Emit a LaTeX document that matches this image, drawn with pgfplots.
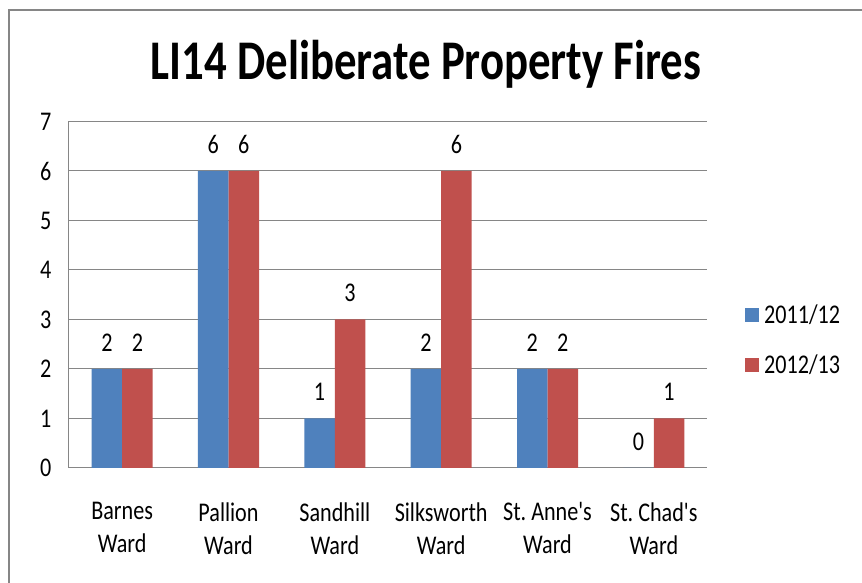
\documentclass[border=0pt]{standalone}
\usepackage{fontspec}
\setmainfont[FakeStretch=0.82, Ligatures=TeXOff]{Carlito}
\newfontfamily\titlefont[FakeStretch=0.8]{Carlito}
\usepackage{pgfplots}
\pgfplotsset{compat=1.18}
\definecolor{barblue}{HTML}{4F81BD}
\definecolor{barred}{HTML}{C0504D}
\definecolor{gridgray}{HTML}{868686}
\frenchspacing
\begin{document}
\begin{tikzpicture}
\useasboundingbox (0,0) rectangle (862pt,583pt);
\fill[white] (0,0) rectangle (862pt,583pt);
\draw[gridgray, line width=2pt] (9pt,0) -- (9pt,573pt) -- (862pt,573pt);
\node[anchor=base, font=\titlefont\fontsize{56}{60}\selectfont\bfseries] at (426pt,503pt) {LI14 Deliberate Property Fires};
\begin{axis}[
  at={(69pt,115pt)}, anchor=south west,
  scale only axis, width=638pt, height=346.5pt,
  xmin=-0.5, xmax=5.5, ymin=0, ymax=7,
  ybar=0pt, bar width=30.5pt,
  xtick={0,1,2,3,4,5},
  xticklabels={{Barnes\\Ward},{Pallion\\Ward},{Sandhill\\Ward},{Silksworth\\Ward},{St. Anne's\\Ward},{St. Chad's\\Ward}},
  ytick={0,1,2,3,4,5,6,7},
  major tick length=0pt,
  axis lines*=left,
  axis line style={draw=gridgray, line width=1pt, -},
  ymajorgrids,
  major grid style={draw=gridgray, line width=1pt},
  /pgf/number format/assume math mode=true,
  tick label style={font=\fontsize{27}{33}\selectfont},
  xticklabel style={align=center, yshift=-31pt},
  yticklabel style={xshift=-14pt},
  nodes near coords,
  every node near coord/.append style={font=\fontsize{27}{32}\selectfont, anchor=south, yshift=14pt, /pgf/number format/assume math mode=true},
  legend style={at={(1,0.369)}, anchor=west, xshift=38pt, draw=none, fill=none,
    font=\fontsize{27}{32}\selectfont, row sep=26pt, legend cell align=left, inner sep=0pt},
  legend image code/.code={\fill[#1] (0pt,-7pt) rectangle (14pt,7pt); \path (17pt,0pt);},
]
\addplot[fill=barblue, draw=none] coordinates {(0,2) (1,6) (2,1) (3,2) (4,2) (5,0)};
\addplot[fill=barred, draw=none] coordinates {(0,2) (1,6) (2,3) (3,6) (4,2) (5,1)};
\legend{2011/12, 2012/13}
\end{axis}
\end{tikzpicture}
\end{document}
